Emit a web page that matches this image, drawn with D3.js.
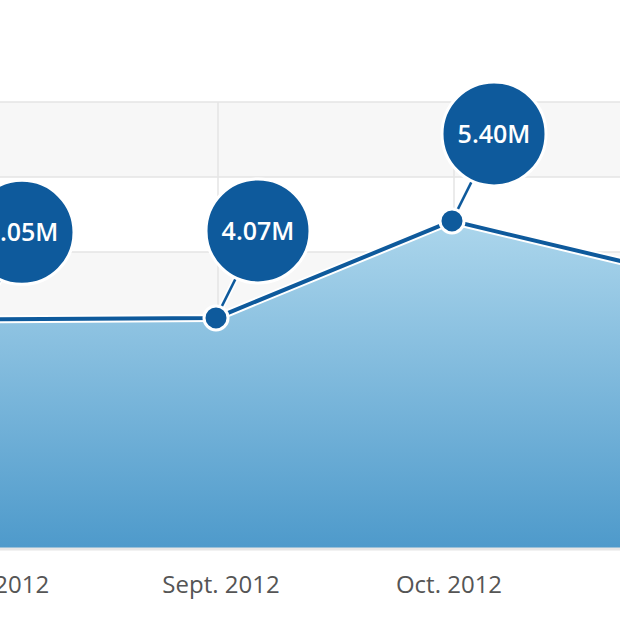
<!DOCTYPE html>
<html><head><meta charset="utf-8">
<script src="https://cdn.jsdelivr.net/npm/d3@7"></script>
<style>body{margin:0;background:#fff}</style>
</head><body><div id="chart"></div>
<script>
// Data_____________________________________
const months = ["Aug. 2012", "Sept. 2012", "Oct. 2012", "Nov. 2012"];
const values = [4.05, 4.07, 5.40, 4.63];
const labels = ["4.05M", "4.07M", "5.40M", "4.63M"];

const width = 620, height = 620;
const svg = d3.select("#chart").append("svg").attr("width", width).attr("height", height);

const x = d3.scaleLinear().domain([0, 1]).range([-20, 216]);
const y = d3.scaleLinear().domain([0.915, 7.03]).range([548, 102]);

// background bands + grid
const gridVals = d3.range(0, 6).map(i => y.invert(102 + i * 75));
svg.selectAll("rect.band").data(gridVals).enter().append("rect")
    .attr("x", 0).attr("width", width)
    .attr("y", d => y(d)).attr("height", 75)
    .attr("fill", (d, i) => i % 2 === 0 ? "#f7f7f7" : "#ffffff");
svg.selectAll("line.h").data(gridVals).enter().append("line")
    .attr("x1", 0).attr("x2", width).attr("y1", d => y(d)).attr("y2", d => y(d))
    .attr("stroke", "#e4e4e4").attr("stroke-width", 1.5);
svg.selectAll("line.v").data(months).enter().append("line")
    .attr("x1", (d, i) => x(i) + 2).attr("x2", (d, i) => x(i) + 2)
    .attr("y1", 102).attr("y2", 548)
    .attr("stroke", "#e4e4e4").attr("stroke-width", 1.5);

// gradient
const grad = svg.append("defs").append("linearGradient").attr("id", "g")
    .attr("x1", 0).attr("x2", 0).attr("y1", 0).attr("y2", 1);
grad.append("stop").attr("offset", "0%").attr("stop-color", "#acd6ec");
grad.append("stop").attr("offset", "100%").attr("stop-color", "#4e9acb");

const area = d3.area().x((d, i) => x(i)).y0(548).y1(d => y(d));
svg.append("path").datum(values).attr("d", area).attr("fill", "url(#g)");
svg.append("line").attr("x1", 0).attr("x2", width).attr("y1", 549).attr("y2", 549)
    .attr("stroke", "#e6e6e6").attr("stroke-width", 3);

const line = d3.line().x((d, i) => x(i)).y(d => y(d));
svg.append("path").datum(values).attr("d", line)
    .attr("fill", "none").attr("stroke", "#fff").attr("stroke-width", 8);
svg.append("path").datum(values).attr("d", line)
    .attr("fill", "none").attr("stroke", "#0e5a9c").attr("stroke-width", 4);

// connectors, points, bubbles
const g = svg.selectAll("g.pt").data(values).enter().append("g")
    .attr("transform", (d, i) => `translate(${x(i)},${y(d)})`);
g.append("line").attr("x1", 0).attr("y1", 0).attr("x2", 30).attr("y2", -60)
    .attr("stroke", "#fff").attr("stroke-width", 6);
g.append("line").attr("x1", 0).attr("y1", 0).attr("x2", 30).attr("y2", -60)
    .attr("stroke", "#0e5a9c").attr("stroke-width", 2.5);
g.append("circle").attr("r", 12).attr("fill", "#0e5a9c").attr("stroke", "#fff").attr("stroke-width", 3);
g.append("circle").attr("cx", 42).attr("cy", -87).attr("r", 52)
    .attr("fill", "#0e5a9c").attr("stroke", "#fff").attr("stroke-width", 3);
g.append("text").attr("x", 42).attr("y", -87).attr("dy", "0.36em")
    .attr("text-anchor", "middle").attr("fill", "#fff")
    .style("font", "600 25px 'Open Sans', sans-serif")
    .text((d, i) => labels[i]);

// x labels
const labelX = [-6, 221, 449, 676];
svg.selectAll("text.xl").data(months).enter().append("text")
    .attr("x", (d, i) => labelX[i]).attr("y", 593).attr("text-anchor", "middle")
    .attr("fill", "#555").style("font", "24px 'Open Sans', sans-serif")
    .text(d => d);
</script>
</body></html>
